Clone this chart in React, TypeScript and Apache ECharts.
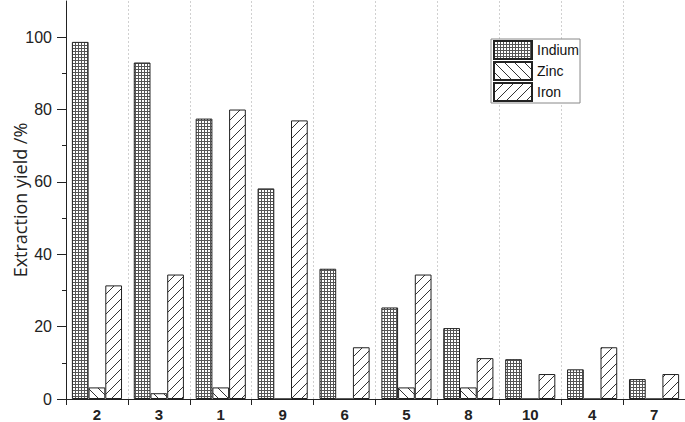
import React, { useEffect, useRef } from "react";
import * as echarts from "echarts";

const categories = ["2", "3", "1", "9", "6", "5", "8", "10", "4", "7"];
const indium = [98.7, 93.0, 77.5, 58.2, 36.0, 25.3, 19.6, 11.0, 8.2, 5.5];
const zinc = [3.2, 1.6, 3.2, 0, 0, 3.2, 3.2, 0, 0, 0];
const iron = [31.4, 34.4, 80.0, 77.0, 14.3, 34.4, 11.3, 6.9, 14.3, 6.9];
const majorTicks = [0, 20, 40, 60, 80, 100];
const minorTicks = [10, 30, 50, 70, 90];

function makeTile(kind: string) {
  const size = kind === "grid" ? 3 : 10;
  const c = document.createElement("canvas");
  c.width = size;
  c.height = size;
  const ctx = c.getContext("2d")!;
  ctx.fillStyle = "#ffffff";
  ctx.fillRect(0, 0, size, size);
  if (kind === "grid") {
    ctx.fillStyle = "#555555";
    ctx.fillRect(0, 0, size, 1);
    ctx.fillRect(0, 0, 1, size);
  } else {
    ctx.strokeStyle = "#333333";
    ctx.lineWidth = 1;
    ctx.beginPath();
    if (kind === "slash") {
      ctx.moveTo(-2, size + 2);
      ctx.lineTo(size + 2, -2);
      ctx.moveTo(-2, 2);
      ctx.lineTo(2, -2);
      ctx.moveTo(size - 2, size + 2);
      ctx.lineTo(size + 2, size - 2);
    } else {
      ctx.moveTo(-2, -2);
      ctx.lineTo(size + 2, size + 2);
      ctx.moveTo(-2, size - 2);
      ctx.lineTo(2, size + 2);
      ctx.moveTo(size - 2, -2);
      ctx.lineTo(size + 2, 2);
    }
    ctx.stroke();
  }
  return {
    type: "pattern",
    image: c.toDataURL(),
    imageWidth: size,
    imageHeight: size,
    repeat: "repeat",
  } as any;
}

export default function App() {
  const ref = useRef<HTMLDivElement>(null);
  useEffect(() => {
    if (!ref.current) return;
    const chart = echarts.init(ref.current, null, { renderer: "svg" });
    const font = "Liberation Sans";
    const barStyle = (kind: string) => ({
      color: makeTile(kind),
      borderColor: "#222",
      borderWidth: 1,
    });
    chart.setOption({
      animation: false,
      backgroundColor: "#ffffff",
      grid: { left: 66, right: 0, top: 1, bottom: 23, containLabel: false, outerBoundsMode: "none" },
      legend: {
        orient: "vertical",
        left: 491,
        top: 39,
        icon: "rect",
        itemWidth: 38,
        itemHeight: 18,
        itemGap: 1,
        itemTextGap: 2,
        padding: [1, 1, 1, 2],
        borderColor: "#888",
        borderWidth: 1,
        backgroundColor: "#fff",
        textStyle: { fontSize: 14, color: "#111", fontFamily: font },
        data: ["Indium", "Zinc", "Iron"],
      },
      xAxis: {
        type: "category",
        data: categories,
        boundaryGap: true,
        axisLine: { lineStyle: { color: "#222", width: 1 } },
        axisTick: { show: true, length: 6, alignWithLabel: false, lineStyle: { color: "#222" } },
        axisLabel: {
          fontSize: 15,
          fontWeight: "bold",
          color: "#222",
          fontFamily: font,
          margin: 8,
          lineHeight: 14,
        },
        splitLine: { show: true, lineStyle: { color: "#d0d0d0", type: [2, 2], width: 1 } },
      },
      yAxis: [
        {
          type: "value",
          min: 0,
          max: 110,
          interval: 20,
          name: "Extraction yield /%",
          nameLocation: "middle",
          nameGap: 37,
          nameMoveOverlap: false,
          nameTextStyle: { fontSize: 18, color: "#222", fontFamily: "Open Sans" },
          axisLine: { show: true, lineStyle: { color: "#222", width: 1 } },
          axisTick: { show: true, length: 9, customValues: majorTicks, lineStyle: { color: "#222" } },
          axisLabel: { fontSize: 16, color: "#222", fontFamily: font, margin: 14, customValues: majorTicks },
          splitLine: { show: false },
        },
        {
          type: "value",
          min: 0,
          max: 110,
          interval: 10,
          position: "left",
          axisLine: { show: false },
          axisTick: { show: true, length: 4, customValues: minorTicks, lineStyle: { color: "#222" } },
          axisLabel: { show: false },
          splitLine: { show: false },
        },
      ],
      series: [
        {
          name: "Indium",
          type: "bar",
          data: indium,
          barGap: "0%",
          barCategoryGap: "19%",
          itemStyle: barStyle("grid"),
        },
        {
          name: "Zinc",
          type: "bar",
          data: zinc,
          barGap: "0%",
          barCategoryGap: "19%",
          itemStyle: barStyle("back"),
        },
        {
          name: "Iron",
          type: "bar",
          data: iron,
          barGap: "0%",
          barCategoryGap: "19%",
          itemStyle: barStyle("slash"),
        },
      ],
    });
    return () => chart.dispose();
  }, []);
  return <div ref={ref} style={{ width: 685, height: 422, position: "fixed", left: 0, top: 0 }} />;
}
